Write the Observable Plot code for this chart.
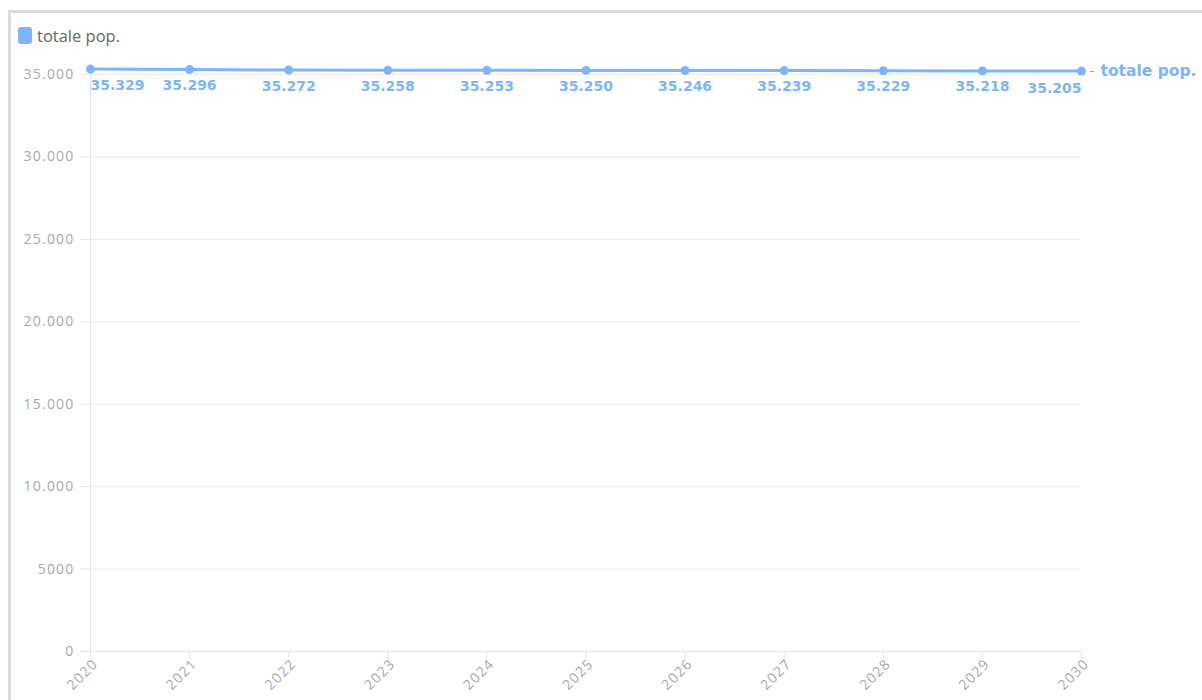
<!DOCTYPE html>
<html>
<head>
<meta charset="utf-8">
<script src="https://cdn.jsdelivr.net/npm/d3@7"></script>
<script src="https://cdn.jsdelivr.net/npm/@observablehq/plot@0.6"></script>
<style>
  html, body { margin: 0; padding: 0; background: #fff; width: 1202px; height: 700px; overflow: hidden; }
  #frame {
    position: absolute; left: 8px; top: 10px; width: 1194px; height: 700px;
    border-left: 3px solid #dadada; border-top: 3px solid #dadada; box-sizing: border-box;
  }
  #legend {
    position: absolute; left: 18px; top: 24px; display: flex; align-items: center;
    font-family: "Open Sans", Lato, sans-serif; font-size: 16.5px; color: #666;
  }
  #legend .swatch { width: 14px; height: 17px; border-radius: 3px; background: #7cb5fb; margin-right: 5px; }
  #chart { position: absolute; left: 0; top: 50px; }
  #chart svg { overflow: visible; }
  #chart g[aria-label="y-axis tick label"] text,
  #chart g[aria-label="x-axis tick label"] text { letter-spacing: 1.2px; }
</style>
</head>
<body>
<div id="frame"></div>
<div id="legend"><span class="swatch"></span><span>totale pop.</span></div>
<div id="chart"></div>
<script>
// Resident population forecast, 2020–2030
const seriesName = "totale pop.";
const years = [2020, 2021, 2022, 2023, 2024, 2025, 2026, 2027, 2028, 2029, 2030];
const population = [35329, 35296, 35272, 35258, 35253, 35250, 35246, 35239, 35229, 35218, 35205];
const yTicks = [0, 5000, 10000, 15000, 20000, 25000, 30000, 35000];

const blue = "#7cb5fb";
const rows = years.map((year, i) => ({year, value: population[i]}));

// Italian number format: dot as thousands separator (4-digit values stay plain)
const it = d3.formatLocale({decimal: ",", thousands: ".", grouping: [3], currency: ["", " €"]});
const fmtGroup = it.format(",d");
const fmt = v => (Math.abs(v) >= 10000 ? fmtGroup(v) : String(v));

const labelFont = {fontFamily: "'DejaVu Sans', Verdana, sans-serif", fontSize: 14, fontWeight: "bold"};
const labelDy = 16;
const axisGray = {stroke: "#e6e6e6", fill: "#a8a8a8", fontSize: 14, label: null};

const chart = Plot.plot({
  width: 1202,
  height: 650,
  marginLeft: 90,
  marginRight: 121,
  marginTop: 24,
  marginBottom: 49,
  style: {fontFamily: "'Open Sans', Lato, sans-serif", fontSize: "14px", background: "transparent"},
  x: {type: "linear", domain: [years[0], years[years.length - 1]]},
  y: {domain: [0, 35000]},
  marks: [
    Plot.gridY(yTicks, {stroke: "#ececec", strokeOpacity: 1}),
    Plot.ruleX([years[0]], {stroke: "#e6e6e6"}),
    Plot.ruleY([0], {stroke: "#e6e6e6"}),
    Plot.axisY({ticks: yTicks, tickSize: 10, tickPadding: 6, tickFormat: fmt, ...axisGray}),
    // x tick marks, then the slanted year labels nudged past each tick
    Plot.axisX({ticks: years, tickSize: 8, tickFormat: () => "", ...axisGray}),
    Plot.axisX({ticks: years, tickSize: 0, tickPadding: 12, dx: 5, dy: -2, tickRotate: -45, tickFormat: d => String(d), ...axisGray}),
    Plot.line(rows, {x: "year", y: "value", stroke: blue, strokeWidth: 3}),
    Plot.dot(rows, {x: "year", y: "value", r: 4.5, fill: blue}),
    // value labels under each point, kept inside the plot at both ends
    Plot.text(rows.slice(0, 1), {x: "year", y: "value", text: d => fmt(d.value), dy: labelDy, textAnchor: "start", fill: blue, ...labelFont}),
    Plot.text(rows.slice(1, -1), {x: "year", y: "value", text: d => fmt(d.value), dy: labelDy, textAnchor: "middle", fill: blue, ...labelFont}),
    Plot.text(rows.slice(-1), {x: "year", y: "value", text: d => fmt(d.value), dy: labelDy + 1, textAnchor: "end", fill: blue, ...labelFont}),
    // series name at the end of the line
    Plot.text(rows.slice(-1), {x: "year", y: "value", text: () => "-", dx: 8, textAnchor: "start", fill: "#999", fontFamily: "'DejaVu Sans', sans-serif", fontSize: 13}),
    Plot.text(rows.slice(-1), {x: "year", y: "value", text: () => seriesName, dx: 19, textAnchor: "start", fill: blue, ...labelFont, fontSize: 15.5})
  ]
});
document.getElementById("chart").append(chart);
</script>
</body>
</html>
